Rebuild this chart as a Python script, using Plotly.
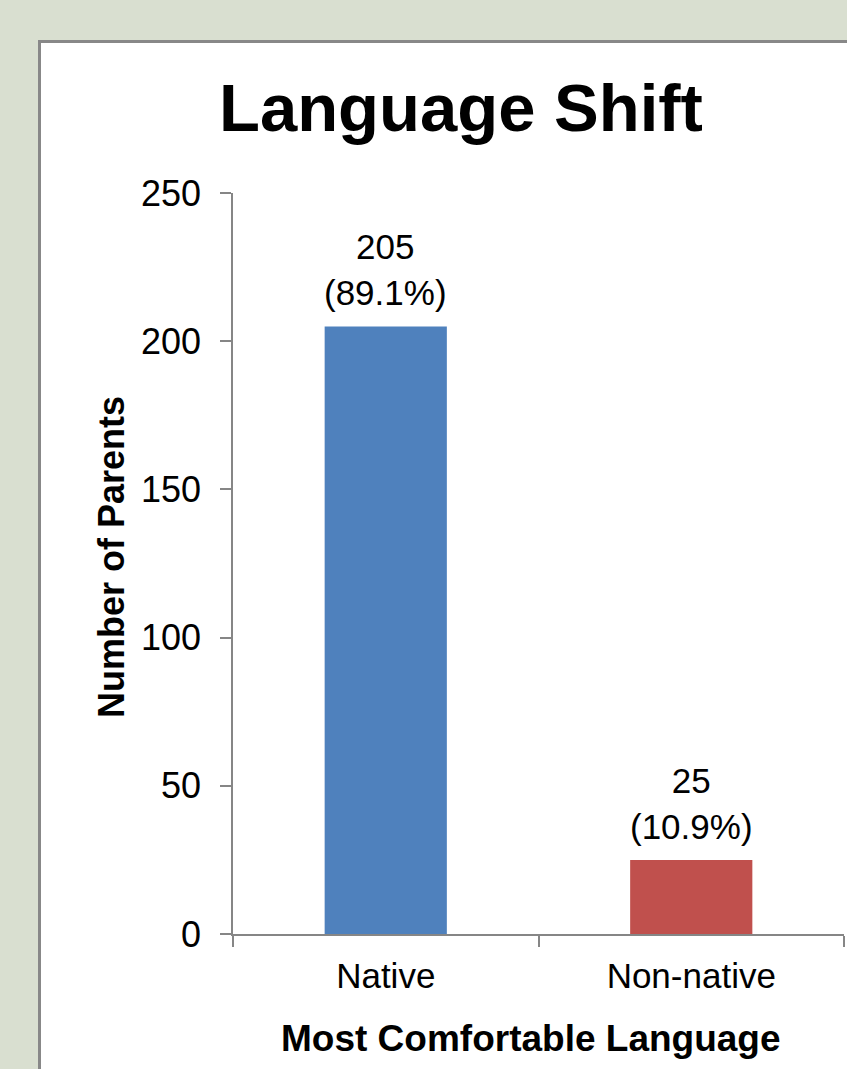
import plotly.graph_objects as go

categories = ["Native", "Non-native"]
counts = [205, 25]
pct_labels = ["89.1%", "10.9%"]
bar_colors = ["#4F81BD", "#C0504D"]
y_ticks = [0, 50, 100, 150, 200, 250]

FONT = "Liberation Sans, Arial, sans-serif"
W, H = 847, 1069
L, R, T, B = 233, 3, 193, 135
pw, ph = W - L - R, H - T - B

def px_x(x):
    return (x - L) / pw

def px_y(y):
    return (H - B - y) / ph

labels = [f"{c}<br>({p})" for c, p in zip(counts, pct_labels)]

fig = go.Figure(go.Bar(
    x=categories, y=counts,
    marker=dict(color=bar_colors, line=dict(width=0)),
    width=0.4, hoverinfo="skip",
))

axis_gray = "#868686"
annotations = [
    dict(text="<b>Language Shift</b>", xref="paper", yref="paper",
         x=px_x(461), y=px_y(108), xanchor="center", yanchor="middle",
         showarrow=False, font=dict(family=FONT, size=67, color="#000000")),
    dict(text="<b>Number of Parents</b>", xref="paper", yref="paper",
         x=px_x(111), y=px_y(557), xanchor="center", yanchor="middle",
         textangle=-90, showarrow=False,
         font=dict(family=FONT, size=36, color="#000000")),
    dict(text="<b>Most Comfortable Language</b>", xref="paper", yref="paper",
         x=px_x(531), y=px_y(1038), xanchor="center", yanchor="middle",
         showarrow=False, font=dict(family=FONT, size=37, color="#000000")),
]
for cat, cnt, lab in zip(categories, counts, labels):
    annotations.append(dict(
        text=lab, x=cat, y=cnt, xref="x", yref="y",
        xanchor="center", yanchor="bottom", yshift=12, showarrow=False,
        font=dict(family=FONT, size=35, color="#000000"),
    ))

fig.update_layout(
    width=W, height=H,
    margin=dict(l=L, r=R, t=T, b=B, pad=0),
    paper_bgcolor="#D9DFD0",
    plot_bgcolor="rgba(0,0,0,0)",
    showlegend=False,
    font=dict(family=FONT, color="#000000"),
    shapes=[dict(
        type="rect", xref="paper", yref="paper",
        x0=px_x(39.5), y0=-0.5, x1=1.5, y1=px_y(41.5),
        line=dict(color="#888888", width=3), fillcolor="#FFFFFF",
        layer="below",
    )],
    annotations=annotations,
)

fig.update_yaxes(
    range=[0, 250], tickvals=y_ticks, showgrid=False, zeroline=False,
    showline=True, linecolor=axis_gray, linewidth=1.5,
    ticks="outside", ticklen=11, tickcolor=axis_gray, tickwidth=1.5,
    ticklabelstandoff=12, fixedrange=True,
    tickfont=dict(family=FONT, size=36, color="#000000"),
)
fig.update_xaxes(
    showgrid=False, zeroline=False,
    showline=True, linecolor=axis_gray, linewidth=1.5,
    ticks="outside", ticklen=11, tickcolor=axis_gray, tickwidth=1.5,
    tickson="boundaries", ticklabelstandoff=10, fixedrange=True,
    tickfont=dict(family=FONT, size=35, color="#000000"),
)

fig.write_html(
    "out.html",
    config={"displayModeBar": False},
    post_script="document.body.style.margin='0';document.body.style.overflow='hidden';document.body.style.background='#D9DFD0';",
)
